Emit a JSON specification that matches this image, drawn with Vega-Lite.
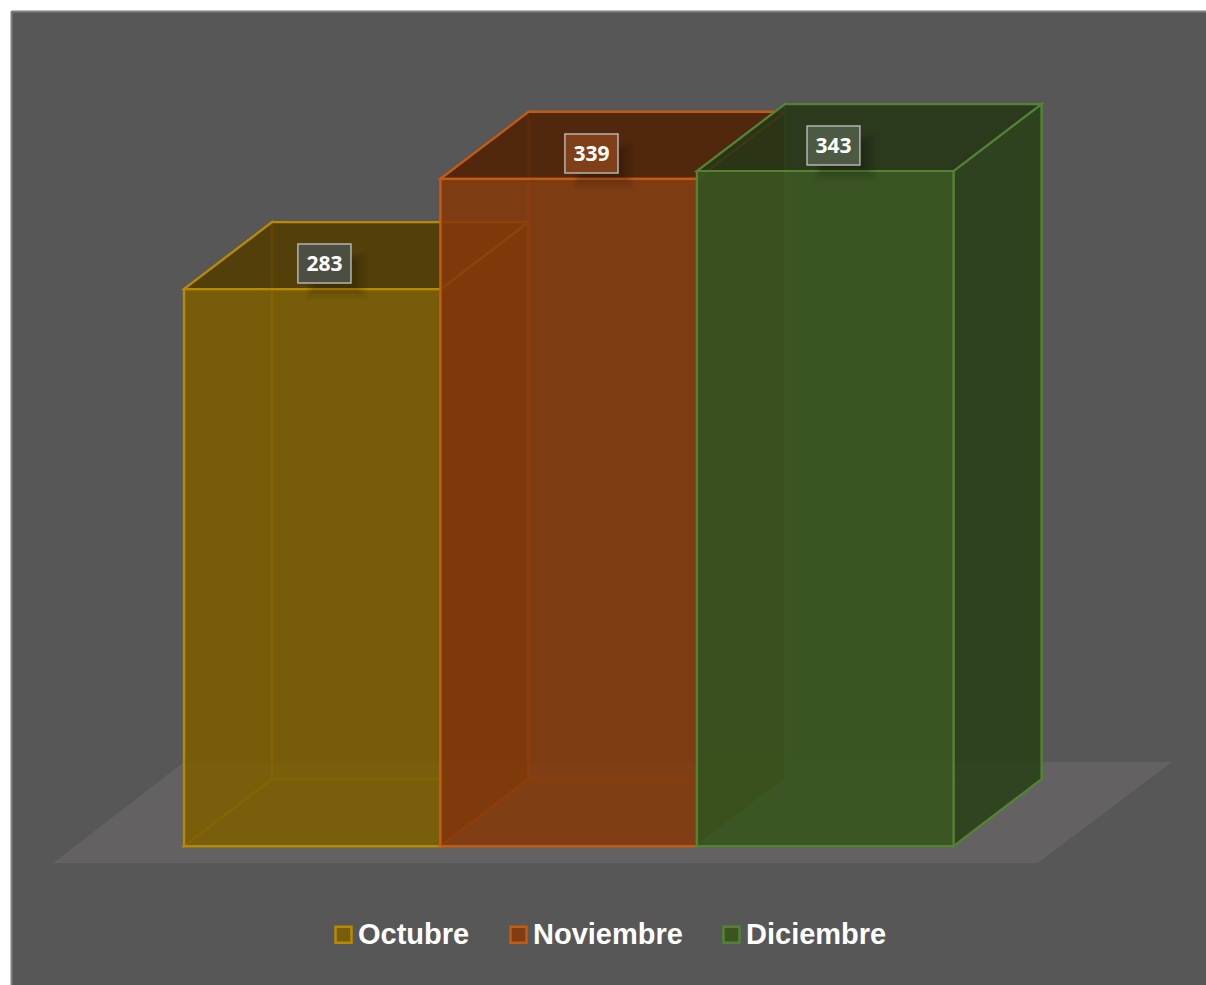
{
"$schema":"https://vega.github.io/schema/vega-lite/v6.json",
"width":1195,"height":974,
"autosize":{"type":"none"},
"padding":{"left":11,"top":11,"right":0,"bottom":0},
"background":"#ffffff",
"view":{"fill":"#575757","stroke":null},
"config":{"font":"Liberation Sans"},
"resolve":{"scale":{"fill":"independent","stroke":"independent"}},
"datasets":{
"suelo":[
{"x":-0.51,"v":-8.6,"v2":-8.6},{"x":0,"v":42.7,"v2":-8.6},{"x":3.329,"v":42.7,"v2":-8.6},{"x":3.852,"v":42.7,"v2":42.7}],
"caras":[
{"mes":"Octubre","cara":"Octubre fondo","x":0.343,"v":317,"v2":34},{"mes":"Octubre","cara":"Octubre fondo","x":1.343,"v":317,"v2":34},
{"mes":"Octubre","cara":"Octubre izquierda","x":0,"v":283,"v2":0},{"mes":"Octubre","cara":"Octubre izquierda","x":0.343,"v":317,"v2":34},
{"mes":"Octubre","cara":"Octubre base","x":0,"v":0,"v2":0},{"mes":"Octubre","cara":"Octubre base","x":0.343,"v":34,"v2":0},{"mes":"Octubre","cara":"Octubre base","x":1,"v":34,"v2":0},{"mes":"Octubre","cara":"Octubre base","x":1.343,"v":34,"v2":34},
{"mes":"Octubre","cara":"Octubre derecha","x":1,"v":283,"v2":0},{"mes":"Octubre","cara":"Octubre derecha","x":1.343,"v":317,"v2":34},
{"mes":"Octubre","cara":"Octubre tapa","x":0,"v":283,"v2":283},{"mes":"Octubre","cara":"Octubre tapa","x":0.343,"v":317,"v2":283},{"mes":"Octubre","cara":"Octubre tapa","x":1,"v":317,"v2":283},{"mes":"Octubre","cara":"Octubre tapa","x":1.343,"v":317,"v2":317},
{"mes":"Octubre","cara":"Octubre frente","x":0,"v":283,"v2":0},{"mes":"Octubre","cara":"Octubre frente","x":1,"v":283,"v2":0},
{"mes":"Noviembre","cara":"Noviembre fondo","x":1.343,"v":373,"v2":34},{"mes":"Noviembre","cara":"Noviembre fondo","x":2.343,"v":373,"v2":34},
{"mes":"Noviembre","cara":"Noviembre izquierda","x":1,"v":339,"v2":0},{"mes":"Noviembre","cara":"Noviembre izquierda","x":1.343,"v":373,"v2":34},
{"mes":"Noviembre","cara":"Noviembre base","x":1,"v":0,"v2":0},{"mes":"Noviembre","cara":"Noviembre base","x":1.343,"v":34,"v2":0},{"mes":"Noviembre","cara":"Noviembre base","x":2,"v":34,"v2":0},{"mes":"Noviembre","cara":"Noviembre base","x":2.343,"v":34,"v2":34},
{"mes":"Noviembre","cara":"Noviembre derecha","x":2,"v":339,"v2":0},{"mes":"Noviembre","cara":"Noviembre derecha","x":2.343,"v":373,"v2":34},
{"mes":"Noviembre","cara":"Noviembre tapa","x":1,"v":339,"v2":339},{"mes":"Noviembre","cara":"Noviembre tapa","x":1.343,"v":373,"v2":339},{"mes":"Noviembre","cara":"Noviembre tapa","x":2,"v":373,"v2":339},{"mes":"Noviembre","cara":"Noviembre tapa","x":2.343,"v":373,"v2":373},
{"mes":"Noviembre","cara":"Noviembre frente","x":1,"v":339,"v2":0},{"mes":"Noviembre","cara":"Noviembre frente","x":2,"v":339,"v2":0},
{"mes":"Diciembre","cara":"Diciembre fondo","x":2.343,"v":377,"v2":34},{"mes":"Diciembre","cara":"Diciembre fondo","x":3.343,"v":377,"v2":34},
{"mes":"Diciembre","cara":"Diciembre izquierda","x":2,"v":343,"v2":0},{"mes":"Diciembre","cara":"Diciembre izquierda","x":2.343,"v":377,"v2":34},
{"mes":"Diciembre","cara":"Diciembre base","x":2,"v":0,"v2":0},{"mes":"Diciembre","cara":"Diciembre base","x":2.343,"v":34,"v2":0},{"mes":"Diciembre","cara":"Diciembre base","x":3,"v":34,"v2":0},{"mes":"Diciembre","cara":"Diciembre base","x":3.343,"v":34,"v2":34},
{"mes":"Diciembre","cara":"Diciembre derecha","x":3,"v":343,"v2":0},{"mes":"Diciembre","cara":"Diciembre derecha","x":3.343,"v":377,"v2":34},
{"mes":"Diciembre","cara":"Diciembre tapa","x":2,"v":343,"v2":343},{"mes":"Diciembre","cara":"Diciembre tapa","x":2.343,"v":377,"v2":343},{"mes":"Diciembre","cara":"Diciembre tapa","x":3,"v":377,"v2":343},{"mes":"Diciembre","cara":"Diciembre tapa","x":3.343,"v":377,"v2":377},
{"mes":"Diciembre","cara":"Diciembre frente","x":2,"v":343,"v2":0},{"mes":"Diciembre","cara":"Diciembre frente","x":3,"v":343,"v2":0}],
"etiquetas":[
{"mes":"Octubre","cara":"Etiqueta Octubre","valor":283,"x":0.548,"v":295.2,"x0":0.444,"x1":0.651,"vt":305.9,"vb":286.1},
{"mes":"Noviembre","cara":"Etiqueta Noviembre","valor":339,"x":1.589,"v":351,"x0":1.485,"x1":1.692,"vt":361.8,"vb":342},
{"mes":"Diciembre","cara":"Etiqueta Diciembre","valor":343,"x":2.532,"v":355,"x0":2.429,"x1":2.635,"vt":365.9,"vb":346}]
},
"layer":[
{"data":{"name":"suelo"},"mark":{"type":"area","orient":"vertical","fill":"#636162"},
 "encoding":{
  "x":{"field":"x","type":"quantitative","scale":{"domain":[-0.6745,3.9844],"nice":false,"zero":false},"axis":{"orient":"top","title":null,"domain":true,"domainColor":"#808080","domainWidth":2,"ticks":false,"labels":false,"grid":false}},
  "y":{"field":"v","type":"quantitative","stack":null,"scale":{"domain":[-70.6,424.3],"nice":false,"zero":false},"axis":{"orient":"left","title":null,"domain":true,"domainColor":"#808080","domainWidth":2,"ticks":false,"labels":false,"grid":false}},
  "y2":{"field":"v2"}}},
{"data":{"name":"caras"},"mark":{"type":"area","orient":"vertical","strokeWidth":2.2,"strokeJoin":"miter"},
 "encoding":{
  "x":{"field":"x","type":"quantitative"},
  "y":{"field":"v","type":"quantitative","stack":null},
  "y2":{"field":"v2"},
  "fill":{"field":"cara","type":"nominal","legend":null,"scale":{
    "domain":["Octubre fondo","Octubre izquierda","Octubre base","Octubre derecha","Octubre tapa","Octubre frente","Noviembre fondo","Noviembre izquierda","Noviembre base","Noviembre derecha","Noviembre tapa","Noviembre frente","Diciembre fondo","Diciembre izquierda","Diciembre base","Diciembre derecha","Diciembre tapa","Diciembre frente"],
    "range":["rgba(0,0,0,0)","rgba(0,0,0,0)","rgba(0,0,0,0)","rgba(83,60,0,0.88)","rgba(83,60,0,0.88)","rgba(124,95,0,0.88)","rgba(0,0,0,0)","rgba(0,0,0,0)","rgba(0,0,0,0)","rgba(81,34,5,0.88)","rgba(81,34,5,0.88)","rgba(132,57,10,0.88)","rgba(0,0,0,0)","rgba(0,0,0,0)","rgba(0,0,0,0)","rgba(41,64,25,0.88)","rgba(37,54,22,0.88)","rgba(56,84,31,0.93)"]}},
  "stroke":{"field":"mes","type":"nominal","legend":null,"scale":{"domain":["Octubre","Noviembre","Diciembre"],"range":["#B88A00","#C55A11","#548235"]}}}},
{"data":{"name":"etiquetas"},"mark":{"type":"rect","fill":"#000000","opacity":0.03,"xOffset":8,"x2Offset":17,"yOffset":8,"y2Offset":17},
 "encoding":{"x":{"field":"x0","type":"quantitative"},"x2":{"field":"x1"},"y":{"field":"vt","type":"quantitative"},"y2":{"field":"vb"}}},
{"data":{"name":"etiquetas"},"mark":{"type":"rect","fill":"#000000","opacity":0.04,"xOffset":10,"x2Offset":14,"yOffset":10,"y2Offset":14},
 "encoding":{"x":{"field":"x0","type":"quantitative"},"x2":{"field":"x1"},"y":{"field":"vt","type":"quantitative"},"y2":{"field":"vb"}}},
{"data":{"name":"etiquetas"},"mark":{"type":"rect","fill":"#000000","opacity":0.05,"xOffset":12,"x2Offset":11,"yOffset":12,"y2Offset":11},
 "encoding":{"x":{"field":"x0","type":"quantitative"},"x2":{"field":"x1"},"y":{"field":"vt","type":"quantitative"},"y2":{"field":"vb"}}},
{"data":{"name":"etiquetas"},"mark":{"type":"rect","fill":"#000000","opacity":0.05,"xOffset":14,"x2Offset":8,"yOffset":14,"y2Offset":8},
 "encoding":{"x":{"field":"x0","type":"quantitative"},"x2":{"field":"x1"},"y":{"field":"vt","type":"quantitative"},"y2":{"field":"vb"}}},
{"data":{"name":"etiquetas"},"mark":{"type":"rect","fill":"#000000","opacity":0.05,"xOffset":16,"x2Offset":5,"yOffset":16,"y2Offset":5},
 "encoding":{"x":{"field":"x0","type":"quantitative"},"x2":{"field":"x1"},"y":{"field":"vt","type":"quantitative"},"y2":{"field":"vb"}}},
{"data":{"name":"etiquetas"},"mark":{"type":"rect","stroke":"#B4B5AE","strokeWidth":1.5},
 "encoding":{"x":{"field":"x0","type":"quantitative"},"x2":{"field":"x1"},"y":{"field":"vt","type":"quantitative"},"y2":{"field":"vb"},
  "fill":{"field":"cara","type":"nominal","legend":null,"scale":{"domain":["Etiqueta Octubre","Etiqueta Noviembre","Etiqueta Diciembre"],"range":["#4C4E43","#7F3F18","#4C5A44"]}}}},
{"data":{"name":"etiquetas"},"mark":{"type":"text","font":"Open Sans","fontWeight":"bold","fontSize":21,"color":"#ffffff","align":"center","baseline":"middle"},
 "encoding":{"x":{"field":"x","type":"quantitative"},"y":{"field":"v","type":"quantitative"},"text":{"field":"valor","type":"quantitative"}}},
{"data":{"name":"etiquetas"},"mark":{"type":"point","shape":"square","filled":true,"opacity":0,"strokeWidth":2.5},
 "encoding":{"x":{"field":"x","type":"quantitative"},"y":{"field":"v","type":"quantitative"},
  "fill":{"field":"mes","type":"nominal","scale":{"domain":["Octubre","Noviembre","Diciembre"],"range":["#785E0A","#7F3D14","#3B5520"]},
   "legend":{"title":null,"orient":"none","legendX":318,"legendY":909,"direction":"horizontal","symbolType":"square","symbolSize":256,"symbolStrokeWidth":2.5,"symbolOpacity":1,"labelFont":"Liberation Sans","labelFontWeight":"bold","labelFontSize":29,"labelColor":"#ffffff","labelOffset":0,"columnPadding":34,"labelLimit":300}},
  "stroke":{"field":"mes","type":"nominal","scale":{"domain":["Octubre","Noviembre","Diciembre"],"range":["#B88A00","#C55A11","#548235"]},
   "legend":{"title":null,"orient":"none","legendX":318,"legendY":909,"direction":"horizontal","symbolType":"square","symbolSize":256,"symbolStrokeWidth":2.5,"symbolOpacity":1,"labelFont":"Liberation Sans","labelFontWeight":"bold","labelFontSize":29,"labelColor":"#ffffff","labelOffset":0,"columnPadding":34,"labelLimit":300}}}}
]
}
